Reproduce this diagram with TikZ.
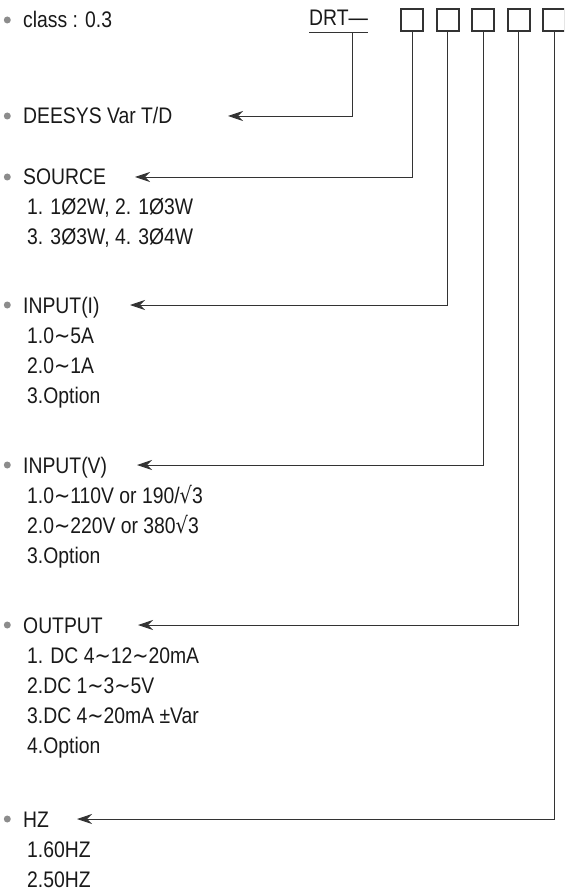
\documentclass[tikz,border=0pt]{standalone}
\usepackage{fontspec}
\setmainfont{Liberation Sans}[FakeStretch=0.86]
\newfontfamily\symfont{DejaVu Sans}[FakeStretch=0.86]
\usetikzlibrary{arrows.meta,positioning}
\newcommand{\tld}{{\symfont ∼}}
\newcommand{\sqr}{{\symfont √}}

\begin{document}
\begin{tikzpicture}[
	x = 1pt, y = 1pt,
	node distance = 30pt,
	on grid,
	> = {Stealth[length=15pt,width=10pt]},
	head/.style = {anchor=west, inner sep=0pt, text height=16pt, text depth=0pt,
		text=black!90, font=\fontsize{22.5pt}{26pt}\selectfont},
	item/.style = {head, xshift=4pt},
	slot/.style = {draw=black!80, line width=2pt, minimum size=22pt, inner sep=0pt},
	dot/.style = {circle, fill=black!45, minimum size=7pt, inner sep=0pt},
	lead/.style = {draw=black!80, line width=0.9pt}
	]
	\clip (0,0) rectangle (564,-890);
	% model code
	\node[head] (drt) at (309,-18) {DRT—};
	\node[slot] (s1) at (412,-20) {};
	\node[slot] (s2) [right=35.5pt of s1] {};
	\node[slot] (s3) [right=35.5pt of s2] {};
	\node[slot] (s4) [right=35.5pt of s3] {};
	\node[slot] (s5) [right=35.5pt of s4] {};
	\draw[lead] ([yshift=-6pt]drt.south west) -- ([yshift=-6pt]drt.south east);
	% headings
	\node[head] (cls) at (23,-20) {class : 0.3};
	\node[head] (dee) at (23,-116) {DEESYS Var T/D};
	\node[head] (src) at (23,-177) {SOURCE};
	\node (src1) [below=of src.west, item] {1. 1Ø2W, 2. 1Ø3W};
	\node (src2) [below=of src1.west, head] {3. 3Ø3W, 4. 3Ø4W};
	\node[head] (inI) at (23,-305) {INPUT(I)};
	\node (inI1) [below=of inI.west, item] {1.0\tld5A};
	\node (inI2) [below=of inI1.west, head] {2.0\tld1A};
	\node (inI3) [below=of inI2.west, head] {3.Option};
	\node[head] (inV) at (23,-465) {INPUT(V)};
	\node (inV1) [below=of inV.west, item] {1.0\tld110V or 190/\sqr3};
	\node (inV2) [below=of inV1.west, head] {2.0\tld220V or 380\sqr3};
	\node (inV3) [below=of inV2.west, head] {3.Option};
	\node[head] (out) at (23,-625) {OUTPUT};
	\node (out1) [below=of out.west, item] {1. DC 4\tld12\tld20mA};
	\node (out2) [below=of out1.west, head] {2.DC 1\tld3\tld5V};
	\node (out3) [below=of out2.west, head] {3.DC 4\tld20mA ±Var};
	\node (out4) [below=of out3.west, head] {4.Option};
	\node[head] (hz) at (23,-819) {HZ};
	\node (hz1) [below=of hz.west, item] {1.60HZ};
	\node (hz2) [below=of hz1.west, head] {2.50HZ};
	% bullets
	\node[dot] (clsDot) [left=12pt of cls.west] {};
	\node[dot] (deeDot) [left=12pt of dee.west] {};
	\node[dot] (srcDot) [left=12pt of src.west] {};
	\node[dot] (inIDot) [left=12pt of inI.west] {};
	\node[dot] (inVDot) [left=12pt of inV.west] {};
	\node[dot] (outDot) [left=12pt of out.west] {};
	\node[dot] (hzDot) [left=12pt of hz.west] {};
	% arrow ends
	\coordinate (deeTip) at (228,-116);
	\coordinate (srcTip) at (135,-177);
	\coordinate (inITip) at (130,-305);
	\coordinate (inVTip) at (137,-465);
	\coordinate (outTip) at (138,-625);
	\coordinate (hzTip) at (77,-819);
	\draw[lead,->] ([xshift=14pt,yshift=-6pt]drt.south) |- (deeTip);
	\draw[lead,->] (s1.south) |- (srcTip);
	\draw[lead,->] (s2.south) |- (inITip);
	\draw[lead,->] (s3.south) |- (inVTip);
	\draw[lead,->] (s4.south) |- (outTip);
	\draw[lead,->] (s5.south) |- (hzTip);
\end{tikzpicture}
\end{document}
